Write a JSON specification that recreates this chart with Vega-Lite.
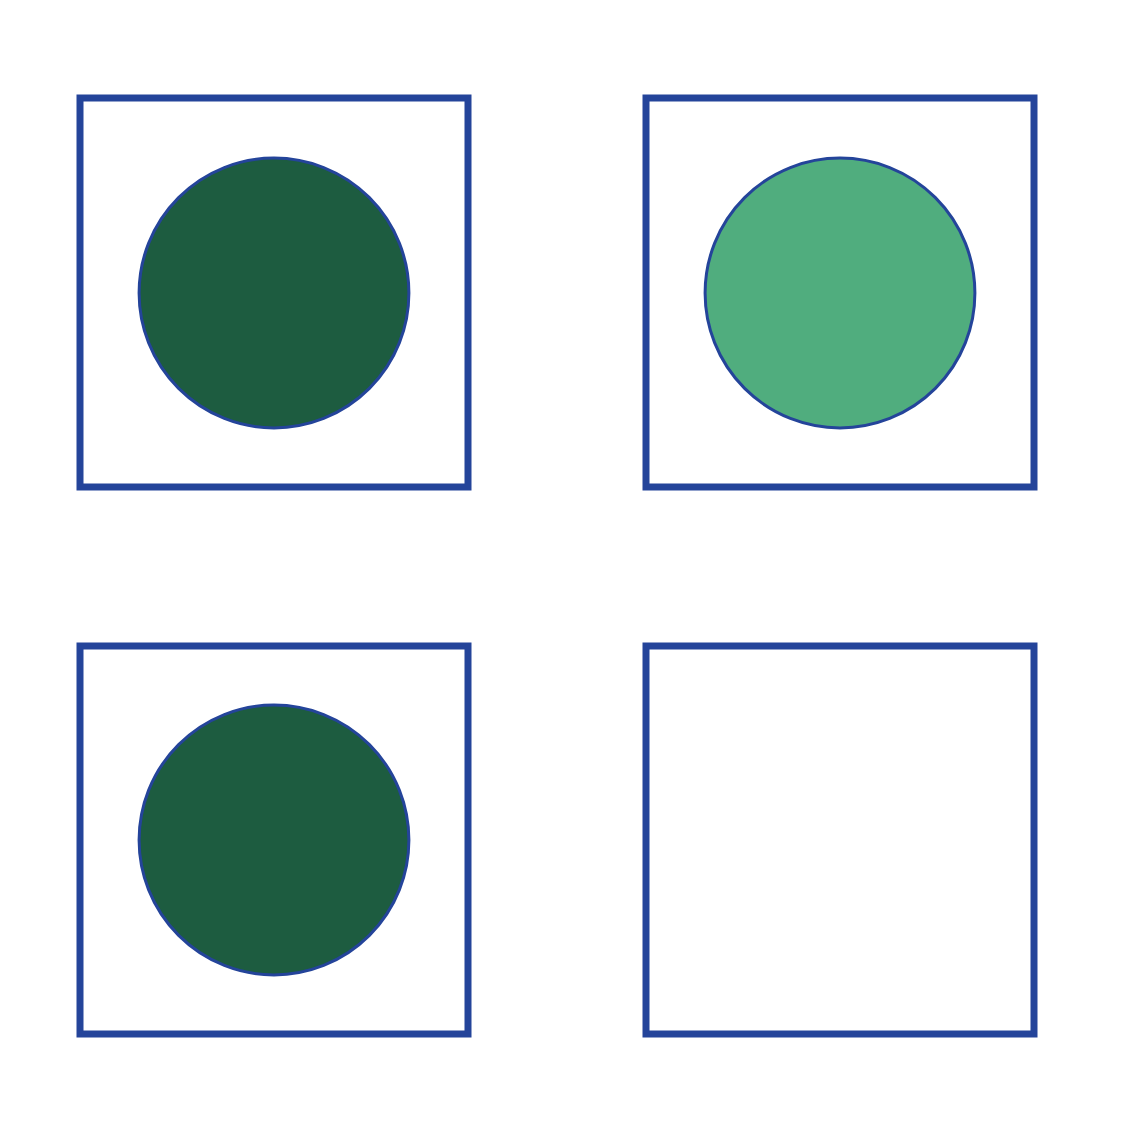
{
  "$schema": "https://vega.github.io/schema/vega-lite/v6.json",
  "width": 1134,
  "height": 1135,
  "autosize": {"type": "fit", "contains": "padding"},
  "padding": 0,
  "config": {"view": {"stroke": null}},
  "layer": [
    {
      "data": {"values": [
        {"x": 80, "x2": 468, "y": 98, "y2": 487, "style": "solid"},
        {"x": 646, "x2": 1034, "y": 98, "y2": 487, "style": "solid"},
        {"x": 80, "x2": 468, "y": 646, "y2": 1034, "style": "solid"},
        {"x": 646, "x2": 1034, "y": 646, "y2": 1034, "style": "dashed"}
      ]},
      "mark": {"type": "rect", "fill": null, "stroke": "#24449a", "strokeWidth": 7},
      "encoding": {
        "x": {"field": "x", "type": "quantitative", "scale": {"domain": [0, 1134]}, "axis": null},
        "x2": {"field": "x2"},
        "y": {"field": "y", "type": "quantitative", "scale": {"domain": [1135, 0]}, "axis": null},
        "y2": {"field": "y2"},
        "strokeDash": {"field": "style", "type": "nominal", "scale": {"domain": ["solid", "dashed"], "range": [[1, 0], [25, 12]]}, "legend": null}
      }
    },
    {
      "data": {"values": [
        {"x": 274, "y": 293, "r": 72800, "fill": "#1d5c40"},
        {"x": 840, "y": 293, "r": 72800, "fill": "#50ad7e"},
        {"x": 274, "y": 840, "r": 72800, "fill": "#1d5c40"}
      ]},
      "mark": {"type": "point", "shape": "circle", "filled": true, "stroke": "#24449a", "strokeWidth": 3, "opacity": 1},
      "encoding": {
        "x": {"field": "x", "type": "quantitative", "scale": {"domain": [0, 1134]}, "axis": null},
        "y": {"field": "y", "type": "quantitative", "scale": {"domain": [1135, 0]}, "axis": null},
        "size": {"field": "r", "type": "quantitative", "scale": null},
        "fill": {"field": "fill", "type": "nominal", "scale": null}
      }
    }
  ]
}
